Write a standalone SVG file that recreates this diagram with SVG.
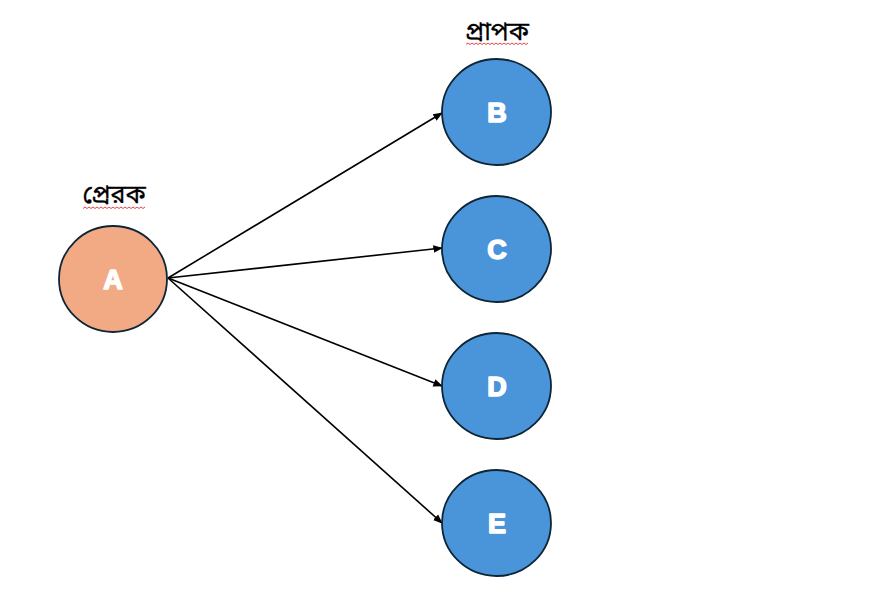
<svg xmlns="http://www.w3.org/2000/svg" width="882" height="600" viewBox="0 0 882 600">
<style>
.node{stroke:#0d2535;stroke-width:1.8}
.a{fill:#f2aa84}
.b{fill:#4a94d9}
.lbl{font-family:"Liberation Sans",Arial,sans-serif;font-weight:bold;font-size:27px;fill:#fff;text-anchor:middle;stroke:#fff;stroke-width:1.6;stroke-linejoin:round}
.title{font-family:"Noto Sans Bengali","Noto Sans","Liberation Sans",sans-serif;font-size:25px;fill:#000;text-anchor:middle;stroke:#000;stroke-width:0.3}
.conn{stroke:#000;stroke-width:1.6;fill:none;marker-end:url(#arr)}
.sq{stroke:#e03030;stroke-width:0.9;fill:none}
</style>
<defs>
<marker id="arr" viewBox="0 0 10 10" refX="9" refY="5" markerWidth="6" markerHeight="6" orient="auto" markerUnits="strokeWidth">
<path d="M0,1 L10,5 L0,9 Z" fill="#000"/>
</marker>
</defs>
<rect width="882" height="600" fill="#fff"/>
<g id="labels">
<text class="title" x="497" y="40">প্রাপক</text>
<path class="sq" d="M466,44.5 l2,-1.5 l2,1.5 l2,-1.5 l2,1.5 l2,-1.5 l2,1.5 l2,-1.5 l2,1.5 l2,-1.5 l2,1.5 l2,-1.5 l2,1.5 l2,-1.5 l2,1.5 l2,-1.5 l2,1.5 l2,-1.5 l2,1.5 l2,-1.5 l2,1.5 l2,-1.5 l2,1.5 l2,-1.5 l2,1.5 l2,-1.5 l2,1.5 l2,-1.5 l2,1.5 l2,-1.5 l2,1.5 l2,-1.5"/>
<text class="title" x="114" y="203">প্রেরক</text>
<path class="sq" d="M83,208.5 l2,-1.5 l2,1.5 l2,-1.5 l2,1.5 l2,-1.5 l2,1.5 l2,-1.5 l2,1.5 l2,-1.5 l2,1.5 l2,-1.5 l2,1.5 l2,-1.5 l2,1.5 l2,-1.5 l2,1.5 l2,-1.5 l2,1.5 l2,-1.5 l2,1.5 l2,-1.5 l2,1.5 l2,-1.5 l2,1.5 l2,-1.5 l2,1.5 l2,-1.5 l2,1.5 l2,-1.5 l2,1.5 l2,-1.5"/>
</g>
<g id="connectors">
<line class="conn" x1="168" y1="278" x2="442" y2="113"/>
<line class="conn" x1="168" y1="278" x2="442" y2="248"/>
<line class="conn" x1="168" y1="278" x2="442" y2="386"/>
<line class="conn" x1="168" y1="278" x2="442" y2="523"/>
</g>
<g id="node-A">
<ellipse class="node a" cx="113" cy="279" rx="54" ry="53"/>
<text class="lbl" x="113" y="289">A</text>
</g>
<g id="node-B">
<ellipse class="node b" cx="496.5" cy="112" rx="54.5" ry="53"/>
<text class="lbl" x="497" y="122">B</text>
</g>
<g id="node-C">
<ellipse class="node b" cx="496.5" cy="249" rx="54.5" ry="53"/>
<text class="lbl" x="497" y="259">C</text>
</g>
<g id="node-D">
<ellipse class="node b" cx="496.5" cy="386" rx="54.5" ry="53"/>
<text class="lbl" x="497" y="396">D</text>
</g>
<g id="node-E">
<ellipse class="node b" cx="496.5" cy="523" rx="54.5" ry="53"/>
<text class="lbl" x="497" y="533">E</text>
</g>
</svg>
